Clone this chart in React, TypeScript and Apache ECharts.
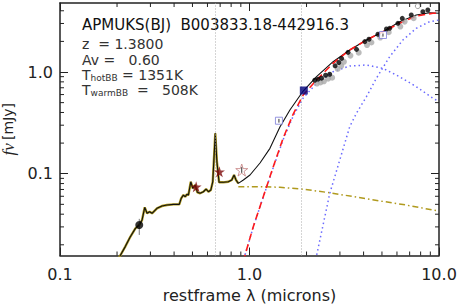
import React, { useEffect, useRef } from "react";
import * as echarts from "echarts";

// ---------- axes ----------
const X_MIN = 0.1;
const X_MAX = 10;
const Y_MIN = 0.0157;
const Y_MAX = 4.77;
const X_MAJOR = [0.1, 1, 10];
const X_TICK_LABELS = ["0.1", "1.0", "10.0"];
const X_MINOR = [0.2, 0.3, 0.4, 0.5, 0.6, 0.7, 0.8, 0.9, 2, 3, 4, 5, 6, 7, 8, 9];
const Y_MAJOR = [0.1, 1];
const Y_TICK_LABELS = ["0.1", "1.0"];
const Y_MINOR = [0.02, 0.03, 0.04, 0.05, 0.06, 0.07, 0.08, 0.09, 0.2, 0.3, 0.4, 0.5, 0.6, 0.7, 0.8, 0.9, 2, 3, 4];

// ---------- texts ----------
const TITLE = "APMUKS(BJ)  B003833.18-442916.3";
const X_NAME = "restframe λ (microns)";
const Z_TEXT = "z  = 1.3800";
const AV_TEXT = "Av =   0.60";
const THOT = "1351K";
const TWARM = "508K";

// ---------- emission line markers (microns) ----------
const emissionLines = [0.6563, 1.875];

// ---------- quasar template spectrum (disk) ----------
const specLambda = [0.2, 0.208, 0.221, 0.235, 0.25, 0.262, 0.271, 0.28, 0.288, 0.297, 0.306, 0.325, 0.345, 0.367, 0.397, 0.426, 0.436, 0.448, 0.458, 0.467, 0.476, 0.49, 0.502, 0.517, 0.531, 0.549, 0.571, 0.59, 0.607, 0.625, 0.64, 0.648, 0.66, 0.673, 0.691, 0.728, 0.773, 0.806, 0.829, 0.849, 0.873];
const specFlux = [0.014, 0.0157, 0.0192, 0.024, 0.029, 0.0313, 0.035, 0.0467, 0.0408, 0.0423, 0.0408, 0.0457, 0.0481, 0.0492, 0.05, 0.05, 0.0573, 0.0617, 0.0594, 0.0627, 0.0617, 0.0834, 0.0718, 0.0774, 0.0656, 0.0642, 0.0665, 0.0707, 0.0665, 0.0691, 0.0834, 0.1312, 0.2496, 0.1312, 0.0823, 0.0823, 0.0834, 0.0867, 0.0971, 0.0867, 0.0804];

// ---------- disk continuum extension (dash-dot) ----------
const diskLambda = [0.873, 1.182, 1.447, 1.883, 2.653, 4.307, 6.72, 9.7];
const diskFlux = [0.0745, 0.0745, 0.0735, 0.0707, 0.065, 0.056, 0.0492, 0.0433];

// ---------- total model beyond the template ----------
const totalLambda = [0.928, 1.006, 1.136, 1.282, 1.447, 1.634, 1.92, 2.258, 2.761, 3.38, 4.14, 5.062, 6.196, 7.586, 8.913, 10.0];
const totalFlux = [0.0867, 0.0971, 0.1274, 0.1777, 0.2878, 0.423, 0.65, 0.899, 1.263, 1.645, 2.064, 2.49, 3.123, 3.636, 3.83, 3.78];

// ---------- sum of black bodies (red dashed) ----------
const bbSumLambda = [0.891, 0.947, 1.047, 1.182, 1.335, 1.506, 1.701, 1.92, 2.258, 2.761, 3.38, 4.14, 5.062, 6.196, 7.586, 9.277, 10.0];
const bbSumFlux = [0.0108, 0.0159, 0.0301, 0.0594, 0.1172, 0.2244, 0.3864, 0.594, 0.834, 1.218, 1.645, 2.064, 2.49, 3.012, 3.553, 3.779, 3.779];

// ---------- hot black body (blue dotted) ----------
const hotLambda = [0.891, 0.947, 1.047, 1.182, 1.335, 1.506, 1.701, 1.92, 2.258, 2.761, 3.38, 4.14, 5.062, 6.196, 7.586, 9.47, 10.0];
const hotFlux = [0.0108, 0.0159, 0.0299, 0.059, 0.1151, 0.2169, 0.3692, 0.555, 0.774, 1.007, 1.146, 1.172, 1.087, 0.899, 0.717, 0.539, 0.519];

// ---------- warm black body (blue dotted) ----------
const warmLambda = [2.185, 2.258, 2.653, 2.995, 3.38, 3.666, 4.14, 4.672, 5.49, 6.45, 7.586, 8.913, 10.0];
const warmFlux = [0.0118, 0.0156, 0.0642, 0.1364, 0.29, 0.3925, 0.5716, 0.867, 1.414, 2.064, 2.69, 3.123, 3.246];

// ---------- photometry ----------
const uvLambda = [0.262];
const uvFlux = [0.0313];
const uvErrLo = [0.025];
const uvErrHi = [0.036];

const opticalLambda = [0.523, 0.694];
const opticalFlux = [0.0745, 0.1046];

const openStarLambda = [0.91];
const openStarFlux = [0.1087];
const openStarErrLo = [0.102];
const openStarErrHi = [0.116];

const nirLambda = [1.935];
const nirFlux = [0.658];

const openSqLambda = [1.43, 5.062];
const openSqFlux = [0.332, 2.311];
const openSqErrLo = [0.318, 2.23];
const openSqErrHi = [0.346, 2.39];

const irLambda = [2.21, 2.3, 2.4, 2.52, 2.65, 2.83, 2.96, 3.06, 3.31, 3.67, 4.06, 4.27, 4.76, 5.28, 5.49, 6.07, 6.4, 7.14, 8.22, 8.73];
const irFlux = [0.83, 0.85, 0.87, 0.93, 0.95, 1.15, 1.24, 1.36, 1.56, 1.67, 1.99, 2.1, 2.35, 2.65, 2.69, 3.01, 3.37, 3.64, 3.92, 4.07];

const irGreyLambda = [2.27, 2.37, 2.47, 2.6, 2.73, 2.92, 3.05, 3.15, 3.41, 3.77, 4.17, 4.4, 4.9, 5.43, 6.25, 6.59, 7.35];
const irGreyFlux = [0.77, 0.79, 0.81, 0.86, 0.88, 1.07, 1.15, 1.26, 1.45, 1.55, 1.84, 1.95, 2.18, 2.46, 2.8, 3.13, 3.38];

const openCircLambda = [7.73];
const openCircFlux = [4.45];

const zip = (a: number[], b: number[]) => a.map((v, i) => [v, b[i]]);

const FONT = "DejaVu Sans";
const STAR = "path://M50,0 L61.8,36.2 L100,36.2 L69.1,58.6 L80.9,95.1 L50,72.7 L19.1,95.1 L30.9,58.6 L0,36.2 L38.2,36.2 Z";
const AXIS_COLOR = "#222";

function pickLabel(v: number, ticks: number[], labels: string[]) {
  for (let i = 0; i < ticks.length; i++) {
    if (Math.abs(Math.log10(v) - Math.log10(ticks[i])) < 1e-6) return labels[i];
  }
  return "";
}

function errorBarSeries(lam: number[], lo: number[], hi: number[], color: string) {
  return lam.map((l, i) => ({
    type: "line",
    data: [[l, lo[i]], [l, hi[i]]],
    showSymbol: false,
    silent: true,
    lineStyle: { color, width: 1 },
    z: 6,
  }));
}

export default function App() {
  const ref = useRef<HTMLDivElement>(null);
  useEffect(() => {
    const chart = echarts.init(ref.current!, null, { renderer: "svg" });

    const xBase = { type: "log", logBase: 10, min: X_MIN, max: X_MAX, splitLine: { show: false } };
    const yBase = { type: "log", logBase: 10, min: Y_MIN, max: Y_MAX, splitLine: { show: false } };
    const lineAx = { show: true, onZero: false, lineStyle: { color: AXIS_COLOR, width: 1.5 } };

    const tickRender = (isX: boolean) => (params: any, api: any) => {
      const v = api.value(isX ? 0 : 1);
      if (isX) {
        const b = api.coord([v, Y_MIN]);
        const t = api.coord([v, Y_MAX]);
        return {
          type: "group",
          children: [
            { type: "line", shape: { x1: b[0], y1: b[1], x2: b[0], y2: b[1] - 4 }, style: { stroke: AXIS_COLOR, lineWidth: 1 } },
            { type: "line", shape: { x1: t[0], y1: t[1], x2: t[0], y2: t[1] + 4 }, style: { stroke: AXIS_COLOR, lineWidth: 1 } },
          ],
        };
      }
      const l = api.coord([X_MIN, v]);
      const r = api.coord([X_MAX, v]);
      return {
        type: "group",
        children: [
          { type: "line", shape: { x1: l[0], y1: l[1], x2: l[0] + 4, y2: l[1] }, style: { stroke: AXIS_COLOR, lineWidth: 1 } },
          { type: "line", shape: { x1: r[0], y1: r[1], x2: r[0] - 4, y2: r[1] }, style: { stroke: AXIS_COLOR, lineWidth: 1 } },
        ],
      };
    };

    const subRich = {
      m: { fontFamily: FONT, fontSize: 14, fill: "#333" },
      s: { fontFamily: FONT, fontSize: 9, fill: "#333", verticalAlign: "bottom" },
    };

    const option: any = {
      animation: false,
      backgroundColor: "#fff",
      grid: { left: 60, right: 19, top: 3, bottom: 49.5, containLabel: false, outerBoundsMode: "none" },
      xAxis: [
        {
          ...xBase,
          position: "bottom",
          axisLine: lineAx,
          axisTick: { show: true, inside: true, length: 8, customValues: X_MAJOR, lineStyle: { color: AXIS_COLOR, width: 1 } },
          axisLabel: {
            show: true,
            customValues: X_MAJOR,
            margin: 11,
            fontSize: 16,
            fontFamily: FONT,
            color: AXIS_COLOR,
            formatter: (v: number) => pickLabel(v, X_MAJOR, X_TICK_LABELS),
          },
          name: X_NAME,
          nameLocation: "middle",
          nameGap: 32,
          nameTextStyle: { fontSize: 16, fontFamily: FONT, color: AXIS_COLOR },
        },
        {
          ...xBase,
          position: "top",
          axisLine: lineAx,
          axisTick: { show: true, inside: true, length: 8, customValues: X_MAJOR, lineStyle: { color: AXIS_COLOR, width: 1 } },
          axisLabel: { show: false },
        },
      ],
      yAxis: [
        {
          ...yBase,
          position: "left",
          axisLine: lineAx,
          axisTick: { show: true, inside: true, length: 8, customValues: Y_MAJOR, lineStyle: { color: AXIS_COLOR, width: 1 } },
          axisLabel: {
            show: true,
            customValues: Y_MAJOR,
            margin: 7,
            fontSize: 16,
            fontFamily: FONT,
            color: AXIS_COLOR,
            formatter: (v: number) => pickLabel(v, Y_MAJOR, Y_TICK_LABELS),
          },
          name: "{i|fν} {r|[mJy]}",
          nameLocation: "middle",
          nameGap: 36,
          nameTextStyle: {
            color: AXIS_COLOR,
            rich: {
              i: { fontFamily: "Liberation Serif", fontStyle: "italic", fontSize: 17, color: AXIS_COLOR },
              r: { fontFamily: FONT, fontSize: 14, color: AXIS_COLOR },
            },
          },
        },
        {
          ...yBase,
          position: "right",
          axisLine: lineAx,
          axisTick: { show: true, inside: true, length: 8, customValues: Y_MAJOR, lineStyle: { color: AXIS_COLOR, width: 1 } },
          axisLabel: { show: false },
        },
      ],
      graphic: {
        elements: [
          { type: "text", x: 82, y: 25, style: { text: TITLE, fontFamily: FONT, fontSize: 15, fill: "#111", verticalAlign: "middle" } },
          { type: "text", x: 82, y: 44, style: { text: Z_TEXT, fontFamily: FONT, fontSize: 14, fill: "#333", verticalAlign: "middle" } },
          { type: "text", x: 82, y: 60, style: { text: AV_TEXT, fontFamily: FONT, fontSize: 14, fill: "#333", verticalAlign: "middle" } },
          {
            type: "text",
            x: 82,
            y: 75,
            style: { text: "{m|T}{s|hotBB}{m| = " + THOT + "}", verticalAlign: "middle", rich: subRich },
          },
          {
            type: "text",
            x: 82,
            y: 90,
            style: { text: "{m|T}{s|warmBB}{m|  =   " + TWARM + "}", verticalAlign: "middle", rich: subRich },
          },
        ],
      },
      series: [
        {
          type: "custom",
          silent: true,
          clip: false,
          data: X_MINOR.map((v) => [v, Y_MIN]),
          renderItem: tickRender(true),
          z: 10,
        },
        {
          type: "custom",
          silent: true,
          clip: false,
          data: Y_MINOR.map((v) => [X_MIN, v]),
          renderItem: tickRender(false),
          z: 10,
        },
        {
          type: "line",
          data: [],
          silent: true,
          markLine: {
            silent: true,
            symbol: "none",
            label: { show: false },
            lineStyle: { color: "#aaa", type: [1, 2], width: 1 },
            data: emissionLines.map((v) => ({ xAxis: v })),
          },
          z: 1,
        },
        {
          type: "line",
          data: zip(specLambda, specFlux),
          showSymbol: false,
          lineStyle: { color: "#b09a1e", width: 2.4 },
          z: 2,
        },
        {
          type: "line",
          data: zip(diskLambda, diskFlux),
          showSymbol: false,
          lineStyle: { color: "#b09a1e", width: 1.5, type: [6, 3, 1.5, 3] },
          z: 2,
        },
        {
          type: "line",
          data: zip(hotLambda, hotFlux),
          showSymbol: false,
          lineStyle: { color: "#6a6aff", width: 1.5, type: [1.5, 3] },
          z: 3,
        },
        {
          type: "line",
          data: zip(warmLambda, warmFlux),
          showSymbol: false,
          lineStyle: { color: "#6a6aff", width: 1.5, type: [1.5, 3] },
          z: 3,
        },
        {
          type: "line",
          data: [...zip(specLambda, specFlux), ...zip(totalLambda, totalFlux)],
          showSymbol: false,
          lineStyle: { color: "#111", width: 1.1 },
          z: 4,
        },
        {
          type: "line",
          data: zip(bbSumLambda, bbSumFlux),
          showSymbol: false,
          lineStyle: { color: "#ff1a1a", width: 1.6, type: [7, 4] },
          z: 5,
        },
        {
          type: "scatter",
          data: zip(irGreyLambda, irGreyFlux),
          symbol: "circle",
          symbolSize: 6,
          itemStyle: { color: "#aaaaaa" },
          z: 6,
        },
        {
          type: "scatter",
          data: zip(irLambda, irFlux),
          symbol: "circle",
          symbolSize: 5,
          itemStyle: { color: "#000" },
          z: 7,
        },
        {
          type: "scatter",
          data: zip(openCircLambda, openCircFlux),
          symbol: "circle",
          symbolSize: 5,
          itemStyle: { color: "#fff", borderColor: "#888", borderWidth: 1 },
          z: 7,
        },
        ...errorBarSeries(uvLambda, uvErrLo, uvErrHi, "#777"),
        {
          type: "scatter",
          data: zip(uvLambda, uvFlux),
          symbol: "circle",
          symbolSize: 8,
          itemStyle: { color: "#000" },
          z: 8,
        },
        {
          type: "scatter",
          data: zip(opticalLambda, opticalFlux),
          symbol: STAR,
          symbolSize: 11,
          itemStyle: { color: "#7d0a0a" },
          z: 8,
        },
        {
          type: "scatter",
          data: zip(openStarLambda, openStarFlux),
          symbol: STAR,
          symbolSize: 12,
          itemStyle: { color: "#fff", borderColor: "#c48080", borderWidth: 1 },
          z: 8,
        },
        ...errorBarSeries(openStarLambda, openStarErrLo, openStarErrHi, "#333").map((s) => ({ ...s, z: 9 })),
        {
          type: "scatter",
          data: zip(nirLambda, nirFlux),
          symbol: "rect",
          symbolSize: 8,
          itemStyle: { color: "#00007a" },
          z: 8,
        },
        {
          type: "scatter",
          data: zip(openSqLambda, openSqFlux),
          symbol: "rect",
          symbolSize: 7,
          itemStyle: { color: "#fff", borderColor: "#7c7cd8", borderWidth: 1 },
          z: 8,
        },
        ...errorBarSeries(openSqLambda, openSqErrLo, openSqErrHi, "#333").map((s) => ({ ...s, z: 9 })),
      ],
    };

    chart.setOption(option);
    return () => chart.dispose();
  }, []);

  return (
    <div
      ref={ref}
      style={{ position: "fixed", left: 0, top: 0, width: 458, height: 305, background: "#fff" }}
    />
  );
}
